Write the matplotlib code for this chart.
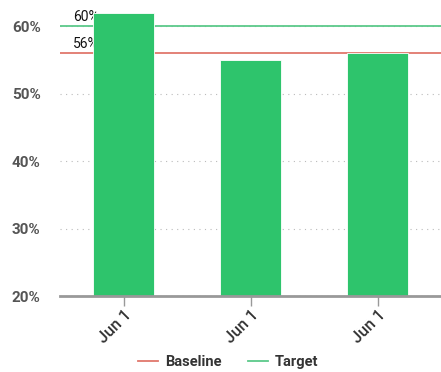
import numpy as np
import matplotlib.pyplot as plt
from matplotlib.lines import Line2D

plt.rcParams['font.family'] = ['Roboto', 'DejaVu Sans']

# data
categories = ['Jun 1', 'Jun 1', 'Jun 1']
values = [62, 55, 56]
ref_names = ['Baseline', 'Target']
ref_values = [56, 60]
ref_colors = ['#e0776c', '#5cc98a']
y_ticks = [20, 30, 40, 50, 60]

fig = plt.figure(figsize=(4.41, 3.72), dpi=100)
ax = fig.add_axes([60 / 441, 76 / 372, 381 / 441, 288 / 372])

x = np.arange(len(categories))
ax.bar(x, values, width=0.48, color='#2ec46c', edgecolor='white', linewidth=0.6, zorder=3)

for name, v, c in zip(ref_names, ref_values, ref_colors):
    ax.axhline(v, color=c, lw=1.3, zorder=2)
    ax.text(-0.4, v + 0.35, f'{v}%', fontsize=10, color='#111111', ha='left', va='bottom', zorder=1)

ax.set_xlim(-0.5, 2.5)
ax.set_ylim(20, 62.7)
ax.set_yticks(y_ticks)
ax.set_yticklabels([f'{t}%' for t in y_ticks], fontsize=11, fontweight='bold', color='#555555')
ax.set_xticks(x)
ax.set_xticklabels(categories, rotation=45, ha='right', rotation_mode='anchor', fontsize=11.5,
                   fontweight='medium', color='#333333')

ax.grid(axis='y', linestyle=(0, (1, 4)), color='#bbbbbb', lw=0.8, zorder=0)
for s in ['top', 'right', 'left']:
    ax.spines[s].set_visible(False)
ax.spines['bottom'].set_color('#999999')
ax.spines['bottom'].set_linewidth(2)
ax.spines['bottom'].set_zorder(4)
ax.tick_params(axis='y', length=0, pad=14)
ax.tick_params(axis='x', length=7, width=1, color='#999999', pad=1)

handles = [Line2D([0], [0], color=c, lw=1.3) for c in ref_colors]
leg = fig.legend(handles, ref_names, loc='lower center', bbox_to_anchor=(0.517, -0.028), ncol=2,
                 frameon=False, handlelength=1.4, handletextpad=0.45, columnspacing=1.8,
                 prop={'weight': 'bold', 'size': 10.5})
for t in leg.get_texts():
    t.set_color('#333333')

fig.savefig('out.png', dpi=100)
